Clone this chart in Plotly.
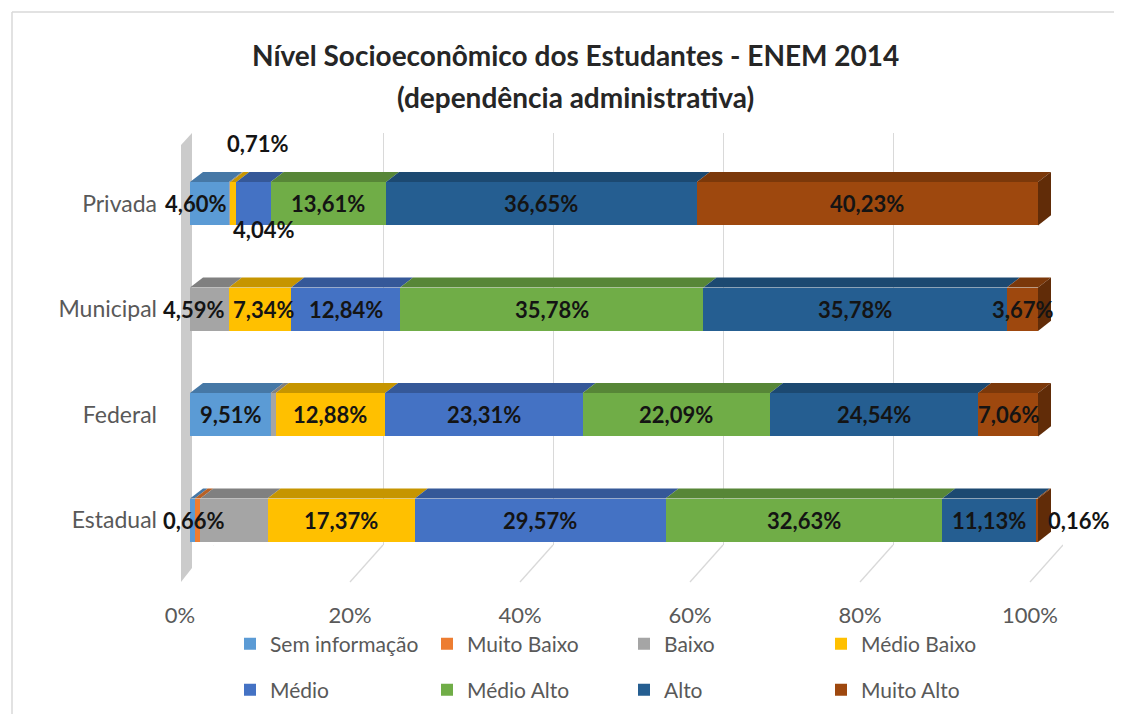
import plotly.graph_objects as go

# ---------------- data ----------------
categories = ["Estadual", "Federal", "Municipal", "Privada"]
levels = ["Sem informação", "Muito Baixo", "Baixo", "Médio Baixo",
          "Médio", "Médio Alto", "Alto", "Muito Alto"]
sem_informacao = [0.55, 9.51, 0.00, 4.60]
muito_baixo = [0.66, 0.00, 0.00, 0.00]
baixo = [7.93, 0.61, 4.59, 0.16]
medio_baixo = [17.37, 12.88, 7.34, 0.71]
medio = [29.57, 23.31, 12.84, 4.04]
medio_alto = [32.63, 22.09, 35.78, 13.61]
alto = [11.13, 24.54, 35.78, 36.65]
muito_alto = [0.16, 7.06, 3.67, 40.23]
series = [sem_informacao, muito_baixo, baixo, medio_baixo,
          medio, medio_alto, alto, muito_alto]
tick_values = [0, 20, 40, 60, 80, 100]
tick_labels = ["0%", "20%", "40%", "60%", "80%", "100%"]
title_lines = ["Nível Socioeconômico dos Estudantes - ENEM 2014",
               "(dependência administrativa)"]
# segments drawn without a data label in the original
unlabeled = {("Estadual", "Sem informação"), ("Estadual", "Baixo"),
             ("Federal", "Baixo"), ("Privada", "Baixo")}

# ---------------- style ----------------
FONT = "Lato"
colors = ["#5B9BD5", "#ED7D31", "#A5A5A5", "#FFC000",
          "#4472C4", "#70AD47", "#255E91", "#9E480E"]
label_offsets = {  # pixel offsets (dx, dy) of some labels
    ("Privada", "Sem informação"): (-14, 0),
    ("Privada", "Médio Baixo"): (24, 60),
    ("Privada", "Médio"): (10, -26),
    ("Municipal", "Baixo"): (-16, 0),
    ("Municipal", "Médio Baixo"): (3, 0),
    ("Estadual", "Muito Baixo"): (-4, 0),
    ("Estadual", "Muito Alto"): (41, 0),
}
PAGE_OFF = 8                 # default body margin of the page
W, H = 1122 - PAGE_OFF, 714 - PAGE_OFF


def px_x(p):
    return (p - PAGE_OFF) / W


def px_y(p):
    return 1 - (p - PAGE_OFF) / H


def darken(hx, f=0.78):
    hx = hx.lstrip("#")
    r, g, b = (int(hx[i:i + 2], 16) for i in (0, 2, 4))
    return "#%02x%02x%02x" % (int(r * f), int(g * f), int(b * f))


BAR_W = 0.41
# bar axis: front faces from 190px (0%) to 1038px (100%)
X0_PX, X100_PX = 190, 1038
units_per_px = 100 / (X100_PX - X0_PX)
x2_range_max = 103
x2_right_px = X0_PX + x2_range_max / units_per_px
DX = 13 * units_per_px      # 3D depth in x
DY = 10 / 105.3             # 3D depth in y (category units)

fig = go.Figure()

# empty trace to create the grid subplot (back wall)
fig.add_trace(go.Scatter(x=[None], y=[None], xaxis="x", yaxis="y",
                         showlegend=False, hoverinfo="skip"))

for i, (lvl, vals) in enumerate(zip(levels, series)):
    fig.add_trace(go.Bar(
        y=categories, x=vals, name=lvl, orientation="h",
        marker=dict(color=colors[i], line=dict(width=0)),
        width=BAR_W, xaxis="x2", yaxis="y2",
        legend="legend" if i < 4 else "legend2",
        hovertemplate="%{y}: %{x:.2f}%<extra>" + lvl + "</extra>",
    ))

shapes = []
annotations = []

# 3D top faces, side faces and labels
for j, cat in enumerate(categories):
    cum = 0.0
    last_i = max(i for i in range(len(series)) if series[i][j] > 0)
    for i, (lvl, vals) in enumerate(zip(levels, series)):
        v = vals[j]
        if v <= 0:
            continue
        x0, x1 = cum, cum + v
        yt = j + BAR_W / 2
        yb = j - BAR_W / 2
        shapes.append(dict(
            type="path", xref="x2", yref="y2", layer="below",
            path=f"M{x0},{yt} L{x1},{yt} L{x1 + DX},{yt + DY} L{x0 + DX},{yt + DY} Z",
            fillcolor=darken(colors[i], 0.78), line=dict(width=0)))
        if i == last_i:
            shapes.append(dict(
                type="path", xref="x2", yref="y2", layer="below",
                path=f"M{x1},{yb} L{x1},{yt} L{x1 + DX},{yt + DY} L{x1 + DX},{yb + DY} Z",
                fillcolor=darken(colors[i], 0.62), line=dict(width=0)))
        if (cat, lvl) not in unlabeled:
            dx, dy = label_offsets.get((cat, lvl), (0, 0))
            annotations.append(dict(
                x=(x0 + x1) / 2, y=cat, xref="x2", yref="y2",
                text=f"{v:.2f}%".replace(".", ","), showarrow=False,
                xshift=dx, yshift=dy,
                font=dict(family=FONT, size=22, color="#141414", weight="bold")))
        cum = x1

# floor diagonal lines from back wall to front edge
for tv in tick_values:
    shapes.append(dict(type="line", xref="x", yref="paper",
                       x0=tv, y0=px_y(545), x1=tv - 33 * (100 / 850), y1=px_y(582),
                       line=dict(color="#d9d9d9", width=1.3), layer="below"))

# left wall
shapes.append(dict(type="path", xref="paper", yref="paper", layer="below",
                   path=(f"M{px_x(181)},{px_y(145)} L{px_x(192)},{px_y(133)} "
                         f"L{px_x(192)},{px_y(568)} L{px_x(181)},{px_y(582)} Z"),
                   fillcolor="#a0a0a0", opacity=0.55, line=dict(width=0)))

# outer border (top & left)
shapes.append(dict(type="line", xref="paper", yref="paper",
                   x0=px_x(12), y0=px_y(12), x1=1, y1=px_y(12),
                   line=dict(color="#d9d9d9", width=1.5)))
shapes.append(dict(type="line", xref="paper", yref="paper",
                   x0=px_x(12), y0=px_y(12), x1=px_x(12), y1=0,
                   line=dict(color="#d9d9d9", width=1.5)))

# title
for k, (line, ypx) in enumerate(zip(title_lines, [55, 97])):
    annotations.append(dict(
        x=px_x(575), y=px_y(ypx), xref="paper", yref="paper",
        text=line, showarrow=False, xanchor="center", yanchor="middle",
        font=dict(family=FONT, size=28, color="#262626", weight="bold")))

legend_common = dict(
    orientation="h", xanchor="left", yanchor="middle",
    entrywidth=152, entrywidthmode="pixels", itemwidth=30,
    font=dict(family=FONT, size=21, color="#595959"),
    bgcolor="rgba(0,0,0,0)", traceorder="normal",
)

fig.update_layout(
    width=W, height=H,
    margin=dict(l=0, r=0, t=0, b=0, autoexpand=False),
    paper_bgcolor="white", plot_bgcolor="rgba(0,0,0,0)",
    barmode="stack",
    showlegend=True,
    font=dict(family=FONT, color="#595959"),
    xaxis=dict(domain=[px_x(213), px_x(1063)], range=[0, 100],
               anchor="y", tickvals=tick_values, ticktext=tick_labels,
               showgrid=True, gridcolor="#d9d9d9", gridwidth=1.3,
               zeroline=False, showline=False, ticks="", automargin=False,
               ticklabelshift=-33, ticklabelstandoff=55,
               tickfont=dict(family=FONT, size=22, color="#595959"),
               fixedrange=True),
    yaxis=dict(domain=[px_y(545), px_y(133)], range=[0, 1], anchor="x",
               visible=False, fixedrange=True, automargin=False),
    xaxis2=dict(domain=[px_x(X0_PX), px_x(x2_right_px)], range=[0, x2_range_max],
                anchor="y2", visible=False, fixedrange=True, automargin=False),
    yaxis2=dict(domain=[px_y(573), px_y(151)], range=[-0.5, 3.5],
                anchor="x2", categoryorder="array", categoryarray=categories,
                showgrid=False, zeroline=False, showline=False, ticks="",
                ticklabelstandoff=32, automargin=False,
                tickfont=dict(family=FONT, size=23, color="#595959"),
                fixedrange=True),
    legend=dict(x=px_x(230), y=px_y(644), **legend_common),
    legend2=dict(x=px_x(230), y=px_y(690), **legend_common),
    shapes=shapes,
    annotations=annotations,
)

fig.write_html("out.html")
